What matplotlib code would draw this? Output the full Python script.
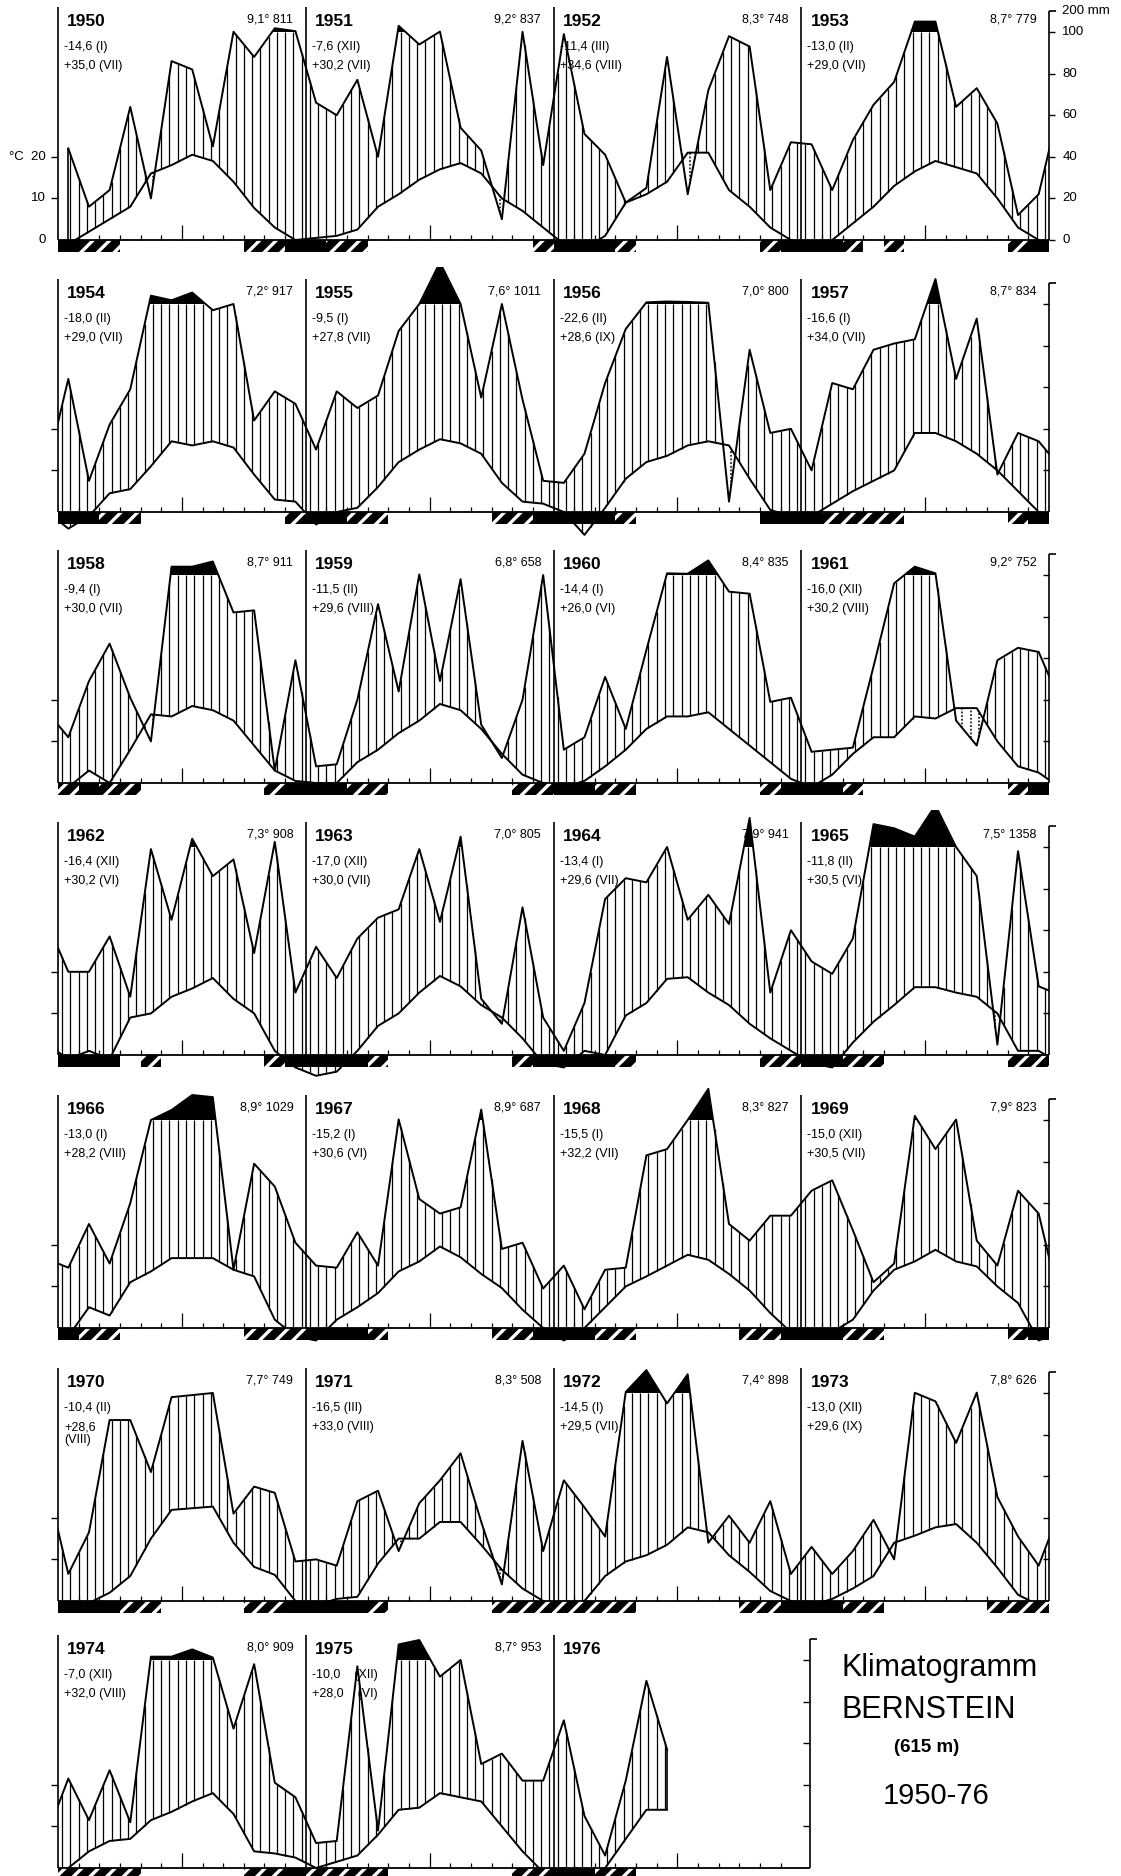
import numpy as np
import matplotlib
matplotlib.use("Agg")
import matplotlib.pyplot as plt
from matplotlib.patches import Rectangle

plt.rcParams['font.family'] = ['Liberation Sans', 'DejaVu Sans']
plt.rcParams['hatch.linewidth'] = 2.4

# monthly mean temperature (°C) and precipitation (mm)
T1950 = [-1, 2, 5, 8, 16, 18, 20.5, 19, 14, 7.7, 3, 0]
P1950 = [44, 16, 24, 64, 20, 86, 82, 45, 101, 88, 118, 104]
T1951 = [0.5, 1, 2.5, 8, 11, 14.5, 17, 18.5, 16, 10, 7, 3]
P1951 = [66, 60, 77, 40, 130, 94, 102, 54, 43, 10, 101, 36]
T1952 = [-1, -2, 1, 9, 11, 14, 21, 21, 12, 8, 3, 0]
P1952 = [99, 51, 41, 18, 25, 88, 22, 72, 98, 93, 24, 47]
T1953 = [-1, 0, 4, 8, 13, 16.5, 19, 17.5, 16, 10, 3, 0]
P1953 = [46, 24, 48, 65, 76, 150, 150, 64, 73, 56, 12, 22]
T1954 = [-4, -1, 4.5, 5.5, 11, 17, 16, 17, 15.5, 9, 3, 2.5]
P1954 = [64, 15, 42, 59, 140, 118, 155, 97, 100, 44, 58, 52]
T1955 = [-3, 0, 1, 6, 12, 15, 17.5, 16.5, 14, 7, 2.5, 2]
P1955 = [30, 58, 50, 56, 87, 100, 300, 100, 55, 100, 54, 15]
T1956 = [0, -5.5, 1, 8, 12, 13.5, 16, 17, 16, 8, 0.5, -1]
P1956 = [14, 28, 62, 88, 108, 112, 110, 106, 5, 78, 38, 40]
T1957 = [-1, 2, 5, 7.5, 10, 19, 19, 17, 14, 10, 5, 0]
P1957 = [20, 62, 59, 78, 81, 83, 220, 64, 93, 18, 38, 34]
T1958 = [-1, 3, 0, 8, 16.5, 16, 18.5, 17.5, 15, 9, 3, 0.5]
P1958 = [22, 49, 67, 41, 20, 140, 140, 165, 82, 83, 6, 59]
T1959 = [0, 0, 5, 8, 12, 15, 19, 17.5, 13, 7, 2, 0]
P1959 = [8, 9, 40, 86, 44, 103, 49, 98, 28, 12, 40, 100]
T1960 = [-1, 0.5, 4, 8, 13, 16, 16, 17, 13, 9, 5, 1]
P1960 = [16, 22, 51, 26, 64, 108, 106, 170, 92, 91, 39, 41]
T1961 = [-1, 2, 7, 11, 11, 16, 15.5, 18, 18, 10, 4, 2.5]
P1961 = [15, 16, 17, 56, 96, 140, 108, 30, 18, 59, 65, 63]
T1962 = [-1, 1, -1, 9, 10, 14, 16, 18.5, 13.5, 10, 1, -3]
P1962 = [40, 40, 57, 28, 99, 65, 140, 86, 94, 49, 125, 30]
T1963 = [-5, -4, 1, 7, 10, 15, 19, 16.5, 12, 9, 4, -2]
P1963 = [52, 37, 56, 66, 70, 99, 64, 150, 27, 15, 71, 18]
T1964 = [-3, 1, 0, 9.5, 12.5, 18.3, 18.7, 15, 12, 7.5, 4, 1]
P1964 = [2, 25, 75, 85, 83, 100, 65, 77, 63, 240, 30, 60]
T1965 = [-2, -3, 3, 8, 12, 16.3, 16.3, 15, 14, 10, 1, 1]
P1965 = [45, 39, 56, 210, 190, 150, 300, 100, 86, 5, 98, 33]
T1966 = [-2, 5, 3, 11, 13.6, 16.8, 16.8, 16.8, 14, 12.4, 2, -2]
P1966 = [29, 50, 31, 60, 100, 148, 220, 210, 28, 79, 68, 41]
T1967 = [-3, 2, 5, 8.4, 13.6, 16, 19.6, 17, 13, 9.6, 4.4, 0]
P1967 = [30, 29, 46, 30, 103, 62, 55, 58, 150, 38, 41, 19]
T1968 = [-3, 0, 5, 10, 12.4, 15, 17.6, 16.4, 13, 9, 3.6, -1]
P1968 = [30, 9, 28, 29, 83, 86, 100, 250, 50, 42, 54, 54]
T1969 = [-2, -1, 2, 9, 14, 16, 18.8, 16, 14.8, 10, 6, -3]
P1969 = [66, 71, 47, 22, 31, 120, 86, 102, 42, 30, 66, 55]
T1970 = [-1, -0.5, 2, 6, 15, 21.9, 22.3, 22.7, 14, 8.2, 6.3, 0]
P1970 = [13, 33, 87, 87, 62, 98, 99, 100, 42, 55, 52, 19]
T1971 = [-1, 0.5, 1, 9, 15, 15, 19, 19, 13.5, 7.5, 3, 0]
P1971 = [20, 17, 48, 53, 24, 47, 58, 71, 38, 8, 77, 24]
T1972 = [-2, 0, 6, 9.5, 11, 13.5, 17.7, 16.5, 11, 7, 2.4, 0]
P1972 = [58, 45, 31, 105, 210, 95, 190, 28, 41, 28, 48, 13]
T1973 = [-1, 0.5, 3, 6, 14, 15.7, 17.7, 18.5, 14, 8, 1.5, -1]
P1973 = [26, 13, 24, 39, 20, 101, 96, 76, 102, 50, 31, 17]
T1974 = [0, 4, 6.5, 7, 11.5, 13.5, 16, 18, 13, 4, 3.5, 2.5]
P1974 = [43, 23, 47, 22, 116, 116, 151, 112, 67, 98, 41, 34]
T1975 = [0, 1.5, 3, 8, 14, 14.5, 18, 17, 16, 10, 4, -1]
P1975 = [12, 13, 97, 18, 175, 196, 92, 100, 50, 55, 42, 42]
T1976 = [0, -1, 0, 7, 14, 14]
P1976 = [71, 25, 6, 42, 90, 57]

years = list(range(1950, 1977))
temps = [T1950, T1951, T1952, T1953, T1954, T1955, T1956, T1957, T1958, T1959,
         T1960, T1961, T1962, T1963, T1964, T1965, T1966, T1967, T1968, T1969,
         T1970, T1971, T1972, T1973, T1974, T1975, T1976]
precs = [P1950, P1951, P1952, P1953, P1954, P1955, P1956, P1957, P1958, P1959,
         P1960, P1961, P1962, P1963, P1964, P1965, P1966, P1967, P1968, P1969,
         P1970, P1971, P1972, P1973, P1974, P1975, P1976]

# annual mean temperature and annual precipitation (upper right of each year)
mean_t = [9.1, 9.2, 8.3, 8.7, 7.2, 7.6, 7.0, 8.7, 8.7, 6.8, 8.4, 9.2, 7.3, 7.0,
          7.9, 7.5, 8.9, 8.9, 8.3, 7.9, 7.7, 8.3, 7.4, 7.8, 8.0, 8.7, None]
annual_p = [811, 837, 748, 779, 917, 1011, 800, 834, 911, 658, 835, 752, 908,
            805, 941, 1358, 1029, 687, 827, 823, 749, 508, 898, 626, 909, 953, None]
# absolute minimum / maximum with month
t_min = ["-14,6 (I)", "-7,6 (XII)", "-11,4 (III)", "-13,0 (II)", "-18,0 (II)",
         "-9,5 (I)", "-22,6 (II)", "-16,6 (I)", "-9,4 (I)", "-11,5 (II)",
         "-14,4 (I)", "-16,0 (XII)", "-16,4 (XII)", "-17,0 (XII)", "-13,4 (I)",
         "-11,8 (II)", "-13,0 (I)", "-15,2 (I)", "-15,5 (I)", "-15,0 (XII)",
         "-10,4 (II)", "-16,5 (III)", "-14,5 (I)", "-13,0 (XII)", "-7,0 (XII)",
         "-10,0    (XII)", ""]
t_max = ["+35,0 (VII)", "+30,2 (VII)", "+34,6 (VIII)", "+29,0 (VII)", "+29,0 (VII)",
         "+27,8 (VII)", "+28,6 (IX)", "+34,0 (VII)", "+30,0 (VII)", "+29,6 (VIII)",
         "+26,0 (VI)", "+30,2 (VIII)", "+30,2 (VI)", "+30,0 (VII)", "+29,6 (VII)",
         "+30,5 (VI)", "+28,2 (VIII)", "+30,6 (VI)", "+32,2 (VII)", "+30,5 (VII)",
         "+28,6\n(VIII)", "+33,0 (VIII)", "+29,5 (VII)", "+29,6 (IX)", "+32,0 (VIII)",
         "+28,0    (VI)", ""]
# frost months under the base line: b = black, h = hatched
frost = ["bhh......hhb", "bhh........h", "bbbh......hb", "bbh.h.....hb",
         "bbhh.......h", "bbhh.....hhb", "bbbh......bb", "bhhhh.....hb",
         "hbhh......hb", "bbhh......hh", "bbhh......hb", "bbh.......hb",
         "bbb.h.....hb", "bbbh......hb", "bbbh......hh", "bbhh......hh",
         "bhh......hhh", "bbbh.....hhb", "bbhh.....hhb", "bbhh......hb",
         "bbbhh....hhb", "bbbh.....hhh", "hhhh.....hhb", "bbhh.....hhh",
         "hhhh.....hhb", "hhhh......hh", "bbhh"]

TEMP = dict(zip(years, temps))
PREC = dict(zip(years, precs))


def pscale(p):
    p = np.asarray(p, dtype=float)
    return np.where(p > 100, 100 + (p - 100) / 10.0, p)


W, H = 1121, 1876
LEFT, RIGHT = 58, 1049
PXU = 2.08
BASE = [240, 512, 783, 1055, 1328, 1601, 1868]
YLO, YHI = -20, 118

fig = plt.figure(figsize=(W / 100, H / 100), dpi=100)

rows = [years[i:i + 4] for i in range(0, len(years), 4)]
for r, yrs in enumerate(rows):
    b = BASE[r]
    ax = fig.add_axes([LEFT / W, 1 - (b - YLO * PXU) / H,
                       (RIGHT - LEFT) / W, (YHI - YLO) * PXU / H])
    ax.set_xlim(0, 48)
    ax.set_ylim(YLO, YHI)
    ax.axis('off')

    xs, ps, ts = [], [], []
    if yrs[0] - 1 in PREC:
        xs.append(-0.5)
        ps.append(PREC[yrs[0] - 1][-1])
        ts.append(TEMP[yrs[0] - 1][-1])
    for i, y in enumerate(yrs):
        for m, (t, p) in enumerate(zip(TEMP[y], PREC[y])):
            xs.append(12 * i + m + 0.5)
            ps.append(p)
            ts.append(t)
    if len(yrs) == 4 and yrs[-1] + 1 in PREC:
        xs.append(48.5)
        ps.append(PREC[yrs[-1] + 1][0])
        ts.append(TEMP[yrs[-1] + 1][0])
    xs = np.array(xs)
    pc = pscale(ps)
    tc = 2 * np.array(ts, dtype=float)

    # black part above 100 mm
    xf = np.linspace(xs[0], xs[-1], 4000)
    pf = np.interp(xf, xs, pc)
    ax.fill_between(xf, 100, pf, where=pf > 100, color='black', lw=0, zorder=2)

    # humid (vertical lines) and arid (dotted) areas
    xh = np.arange(0.2, 48, 0.4)
    xh = xh[(xh >= xs[0]) & (xh <= xs[-1])]
    ph = np.interp(xh, xs, pc)
    th = np.interp(xh, xs, tc)
    top = np.minimum(ph, 100)
    wet = top > th + 0.5
    ax.vlines(xh[wet], th[wet], top[wet], color='black', lw=0.9, zorder=1)
    dry = ph < th - 0.5
    ax.vlines(xh[dry], ph[dry], th[dry], color='black', lw=1.1,
              linestyles=(0, (1.2, 1.2)), zorder=1)

    ax.plot(xs, pc, color='black', lw=1.4, zorder=3)
    ax.plot(xs, tc, color='black', lw=1.4, zorder=3)
    if xs[0] > 0:
        ax.vlines(xs[0], tc[0], pc[0], color='black', lw=1.2, zorder=3)
    if xs[-1] < 48:
        ax.vlines(xs[-1], tc[-1], pc[-1], color='black', lw=1.2, zorder=3)

    # frost bars
    for i, y in enumerate(yrs):
        for m, ch in enumerate(frost[years.index(y)]):
            if ch == 'b':
                ax.add_patch(Rectangle((12 * i + m, -6), 1, 6, fc='black',
                                       ec='none', zorder=3, clip_on=False))
            elif ch == 'h':
                ax.add_patch(Rectangle((12 * i + m, -6), 1, 6, fc='black',
                                       ec='white', lw=0, hatch='//', zorder=3,
                                       clip_on=False))

    # axes, dividers and month ticks
    ncol = 4 if len(yrs) == 4 else 3
    xr = 48 if len(yrs) == 4 else 36.4
    ax.hlines(0, 0, xr, color='black', lw=1.3, zorder=4, clip_on=False)
    for i in range(ncol):
        for k in range(1, 12):
            ax.vlines(12 * i + k, 0, 7 if k == 6 else 2.3, color='black',
                      lw=0.9, zorder=0)
    ax.vlines([12 * i for i in range(len(yrs))], 0, 112, color='black',
              lw=1.2, zorder=4, clip_on=False)
    ax.hlines([20, 40], -0.35, 0, color='black', lw=1.0, clip_on=False)
    ax.vlines(xr, 0, 110, color='black', lw=1.2, clip_on=False)
    ax.hlines(110, xr, xr + 0.35, color='black', lw=1.2, clip_on=False)
    if r == 0:
        ax.hlines([0, 20, 40, 60, 80, 100], xr, xr + 0.3, color='black',
                  lw=1.0, clip_on=False)
        for v, s in zip([110, 100, 80, 60, 40, 20, 0],
                        ["200 mm", "100", "80", "60", "40", "20", "0"]):
            ax.text(xr + 0.65, v, s, fontsize=9.5, va='center', ha='left')
        for v, s in zip([40, 20, 0], ["°C  20", "10", "0"]):
            ax.text(-0.6, v, s, fontsize=9.5, va='center', ha='right')
    else:
        ax.hlines([20, 40, 60, 80, 100], xr - 0.3, xr, color='black', lw=1.0,
                  clip_on=False)

    # year texts
    for i, y in enumerate(yrs):
        k = years.index(y)
        ax.text(12 * i + 0.45, 105, str(y), fontsize=12.5, fontweight='bold',
                va='center', ha='left', zorder=6)
        if mean_t[k] is not None:
            s = f"{mean_t[k]:.1f}".replace('.', ',') + f"° {annual_p[k]}"
            ax.text(12 * (i + 1) - 0.6, 106, s, fontsize=9, va='center',
                    ha='right', zorder=6)
        ax.text(12 * i + 0.3, 95.5, t_min[k], fontsize=9, va='top',
                ha='left', zorder=6)
        ax.text(12 * i + 0.3, 86.5, t_max[k], fontsize=9, va='top',
                ha='left', zorder=6, linespacing=1.1)

fig.text(842 / W, 1 - 1668 / H, "Klimatogramm", fontsize=22, ha='left', va='center')
fig.text(842 / W, 1 - 1710 / H, "BERNSTEIN", fontsize=22, ha='left', va='center')
fig.text(927 / W, 1 - 1747 / H, "(615 m)", fontsize=13.5, fontweight='bold',
         ha='center', va='center')
fig.text(936 / W, 1 - 1796 / H, "1950-76", fontsize=21, ha='center', va='center')

fig.savefig("out.png", dpi=100)
